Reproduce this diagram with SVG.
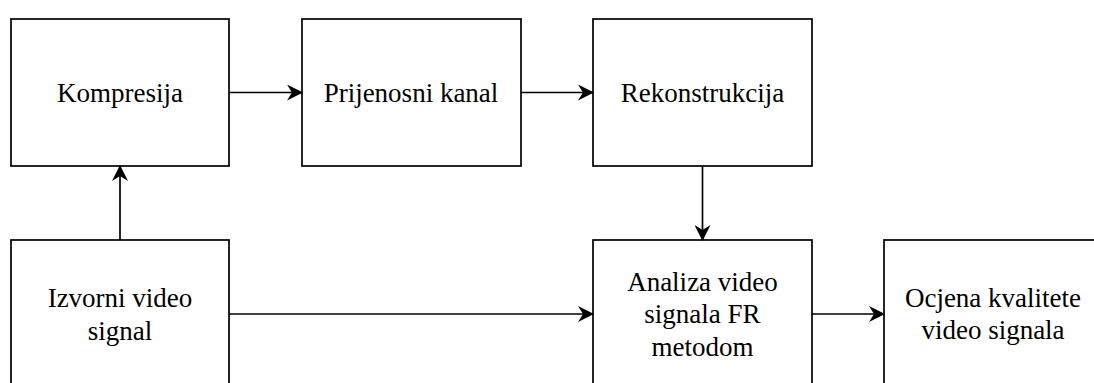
<svg xmlns="http://www.w3.org/2000/svg" width="1094" height="383" viewBox="0 0 1094 383">
<style>
.box{fill:#fff;stroke:#000;stroke-width:1.7}
.lbl{font-family:'Liberation Serif','Tinos','DejaVu Serif',serif;font-size:27px;fill:#000;text-anchor:middle}
.con{fill:none;stroke:#000;stroke-width:1.7;marker-end:url(#arr)}
</style>
<defs>
<marker id="arr" viewBox="0 0 16 16" refX="15" refY="8" markerWidth="16" markerHeight="16" markerUnits="userSpaceOnUse" orient="auto">
<path d="M0,0 L16,8 L0,16 L5,8 Z" fill="#000"/>
</marker>
</defs>
<rect width="1094" height="383" fill="#fff"/>
<g id="kompresija"><rect class="box" x="11" y="19" width="218" height="147"/><text class="lbl" font-family="Liberation Serif" x="120" y="102">Kompresija</text></g>
<g id="prijenosni"><rect class="box" x="302" y="19" width="219" height="147"/><text class="lbl" font-family="Liberation Serif" x="411" y="102">Prijenosni kanal</text></g>
<g id="rekonstrukcija"><rect class="box" x="593" y="19" width="219" height="147"/><text class="lbl" font-family="Liberation Serif" x="702.5" y="102">Rekonstrukcija</text></g>
<g id="izvorni"><rect class="box" x="11" y="240" width="218" height="147"/><text class="lbl" font-family="Liberation Serif" x="120" y="307">Izvorni video</text><text class="lbl" font-family="Liberation Serif" x="120" y="339.5">signal</text></g>
<g id="analiza"><rect class="box" x="593" y="240" width="219" height="147"/><text class="lbl" font-family="Liberation Serif" x="702.5" y="290.5">Analiza video</text><text class="lbl" font-family="Liberation Serif" x="702.5" y="323">signala FR</text><text class="lbl" font-family="Liberation Serif" x="702.5" y="355.5">metodom</text></g>
<g id="ocjena"><rect class="box" x="884" y="240" width="218" height="147"/><text class="lbl" font-family="Liberation Serif" x="993" y="306.5">Ocjena kvalitete</text><text class="lbl" font-family="Liberation Serif" x="993" y="339">video signala</text></g>
<g id="connectors">
<path class="con" d="M229,92.5 H302"/>
<path class="con" d="M521,92.5 H593"/>
<path class="con" d="M120,240 V166"/>
<path class="con" d="M702.5,166 V240"/>
<path class="con" d="M229,314 H593"/>
<path class="con" d="M812,314 H884"/>
</g>
</svg>
